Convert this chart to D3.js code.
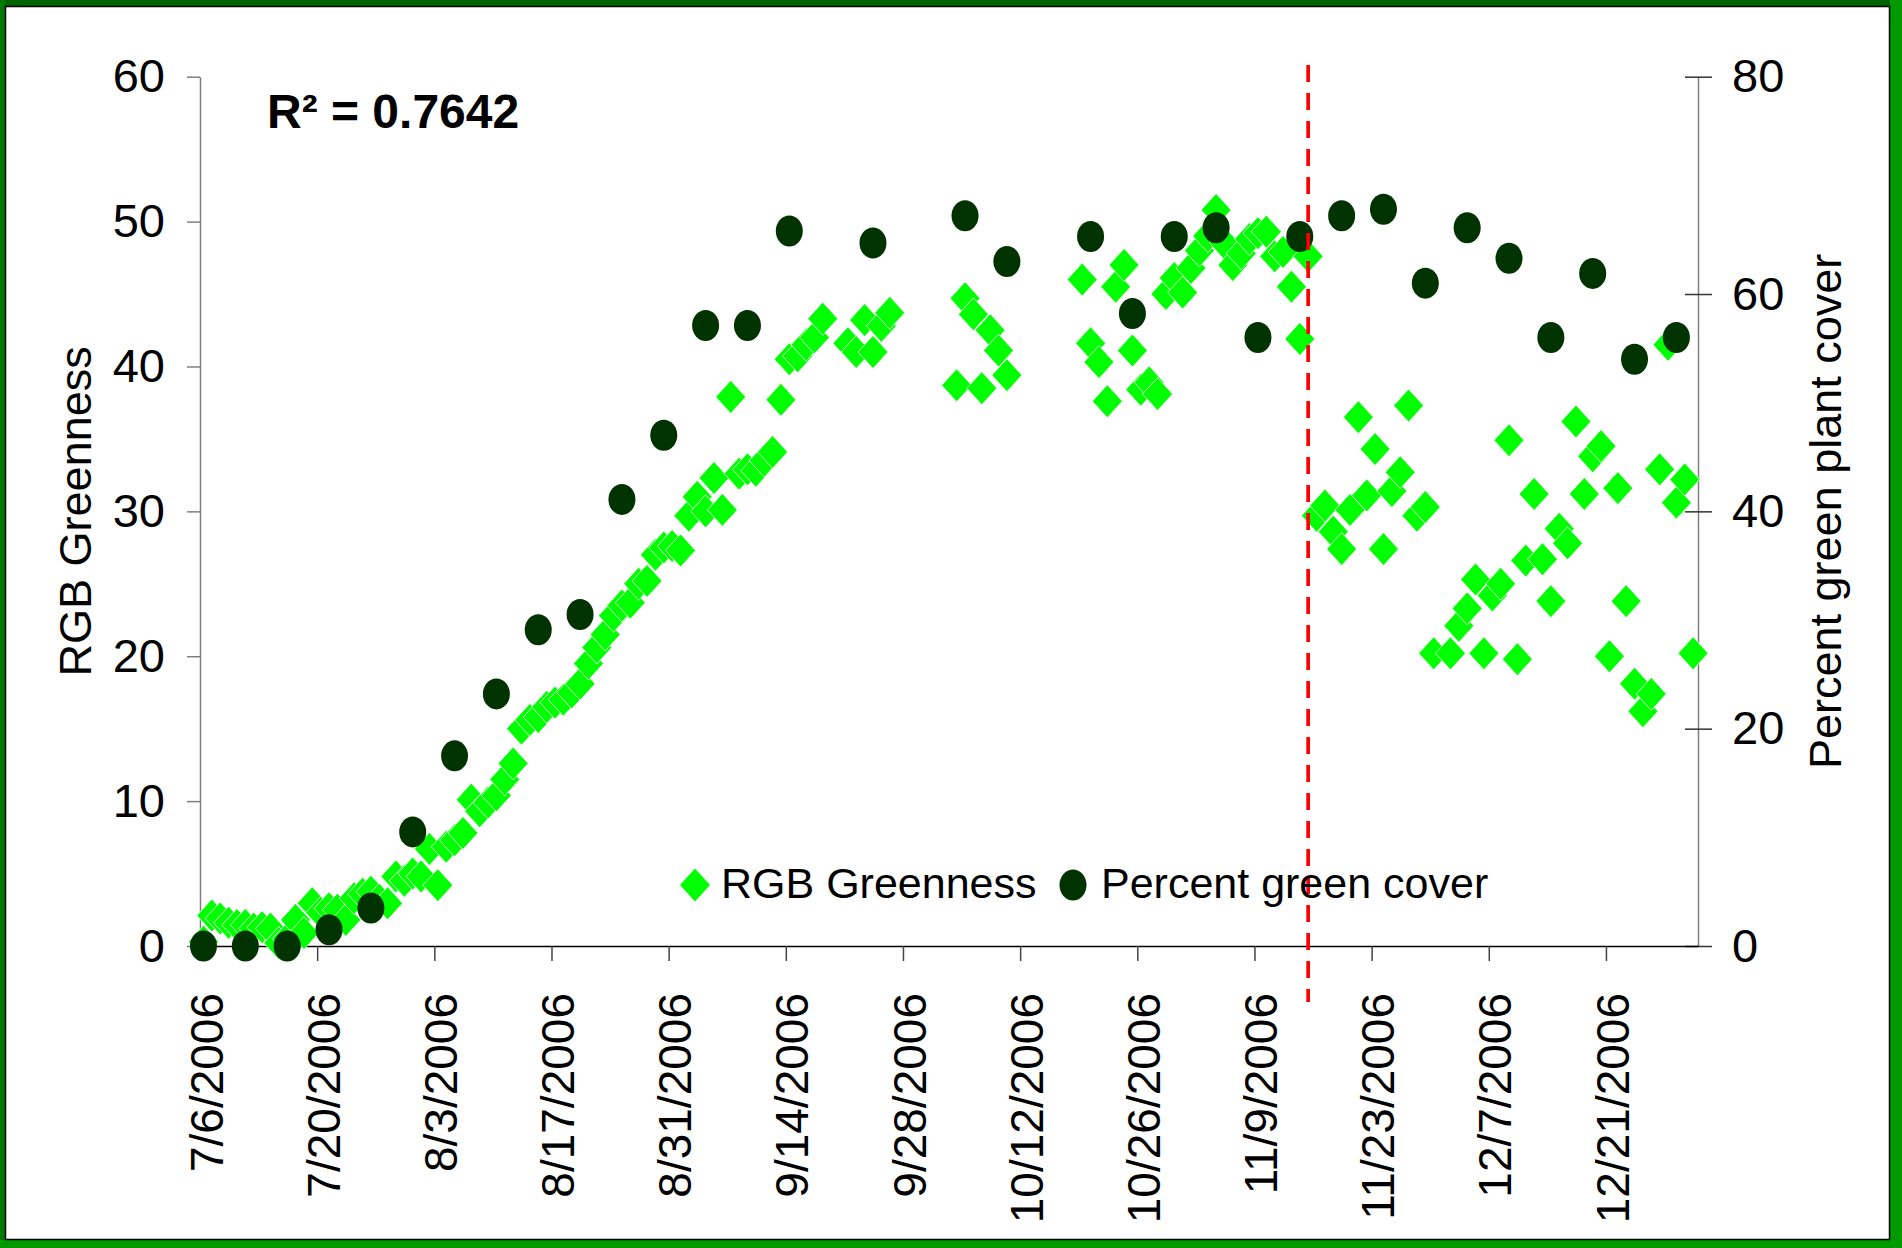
<!DOCTYPE html>
<html>
<head>
<meta charset="utf-8">
<script src="https://cdn.jsdelivr.net/npm/d3@7"></script>
<style>
  body { margin: 0; background: #ffffff; }
  svg { display: block; }
  text { font-family: "Liberation Sans", Arial, Helvetica, sans-serif; fill: #000; }
</style>
</head>
<body>
<svg id="chart" width="1902" height="1248"></svg>
<script>
// ---- data (2006 season, images taken mid-morning) ----
const YEAR = 2006;
const SAMPLE_HOUR = 10;

const rgbDates = [
  "7/6","7/7","7/8","7/9","7/10","7/11","7/12","7/13","7/14","7/15",
  "7/16","7/17","7/18","7/19","7/20","7/21","7/22","7/23","7/24","7/25",
  "7/26","7/27","7/28","7/29","7/30","7/31","8/1","8/2","8/3","8/4",
  "8/5","8/6","8/7","8/8","8/9","8/10","8/11","8/12","8/13","8/14",
  "8/15","8/16","8/17","8/18","8/19","8/20","8/21","8/22","8/23","8/24",
  "8/25","8/26","8/27","8/28","8/29","8/30","8/31","9/1","9/2","9/3",
  "9/4","9/5","9/6","9/7","9/8","9/9","9/10","9/11","9/12","9/13",
  "9/14","9/15","9/16","9/17","9/18",
  "9/21","9/22","9/23","9/24","9/25","9/26",
  "10/4","10/5","10/6","10/7","10/8","10/9","10/10",
  "10/19","10/20","10/21","10/22","10/23","10/24","10/25","10/26","10/27","10/28",
  "10/29","10/30","10/31","11/1","11/2","11/3","11/4","11/5","11/6","11/7",
  "11/8","11/9","11/10","11/11","11/12","11/13","11/14","11/15",
  "11/16","11/17","11/18","11/19","11/20","11/21","11/22","11/23","11/24","11/25",
  "11/26","11/27","11/28","11/29","11/30",
  "12/2","12/3","12/4","12/5","12/6","12/7","12/8","12/9","12/10","12/11",
  "12/12","12/13","12/14","12/15","12/16","12/17","12/18","12/19","12/20","12/21",
  "12/22","12/23","12/24","12/25","12/26","12/27","12/28","12/29","12/30","12/31"
];

const rgbValues = [
  0.3, 2.1, 1.9, 1.6, 1.45, 1.45, 1.2, 1.3, 1.2, 0.2,
  0.5, 1.8, 0.9, 2.95, 2.3, 2.6, 2.5, 1.8, 3.3, 3.6,
  3.75, 3.2, 2.95, 4.8, 4.5, 5.0, 4.8, 6.7, 4.2, 6.85,
  7.3, 7.8, 10.1, 9.3, 9.9, 10.4, 11.5, 12.6, 15.0, 15.6,
  15.8, 16.5, 16.8, 17.0, 17.5, 18.1, 19.5, 20.6, 21.5, 22.8,
  23.5, 23.7, 25.0, 25.2, 27.0, 27.5, 27.6, 27.3, 29.7, 31.0,
  30.0, 32.3, 30.1, 37.9, 32.6, 32.9, 32.8, 33.5, 34.1, 37.7,
  40.5, 40.7, 41.5, 42.0, 43.3,
  41.6, 41.0, 43.2, 41.0, 42.8, 43.7,
  38.7, 44.7, 43.6, 38.5, 42.5, 41.1, 39.4,
  46.0, 41.6, 40.3, 37.6, 45.5, 47.0, 41.1, 38.4, 38.9, 38.1,
  45.0, 46.1, 45.1, 46.8, 48.0, 49.0, 50.8, 48.5, 47.0, 47.8,
  48.8, 49.2, 49.3, 47.6, 47.9, 45.5, 41.9, 47.6,
  29.7, 30.4, 28.6, 27.4, 30.1, 36.5, 31.1, 34.3, 27.4, 31.4,
  32.7, 37.3, 29.7, 30.3, 20.2,
  20.2, 22.1, 23.3, 25.3, 20.2, 24.2, 25.0, 34.9, 19.8, 26.6,
  31.2, 26.7, 23.8, 28.8, 27.8, 36.2, 31.2, 33.8, 34.5, 20.0,
  31.6, 23.8, 18.1, 16.2, 17.4, 32.9, 41.5, 30.6, 32.2, 20.2
];

const coverDates = [
  "7/6","7/11","7/16","7/21","7/26","7/31","8/5","8/10","8/15","8/20",
  "8/25","8/30","9/4","9/9","9/14","9/24","10/5","10/10","10/20","10/25",
  "10/30","11/4","11/9","11/14","11/19","11/24","11/29","12/4","12/9","12/14",
  "12/19","12/24","12/29"
];

const coverValues = [
  0, 0, 0, 1.5, 3.5, 10.5, 17.5, 23.2, 29.1, 30.5,
  41.1, 47.0, 57.1, 57.1, 65.8, 64.7, 67.2, 63.0, 65.3, 58.2,
  65.3, 66.1, 56.0, 65.3, 67.2, 67.8, 61.0, 66.1, 63.3, 56.0,
  61.9, 54.0, 56.0
];

const dateTicks = ["7/6","7/20","8/3","8/17","8/31","9/14","9/28","10/12","10/26","11/9","11/23","12/7","12/21"];
const leftTicks = [0, 10, 20, 30, 40, 50, 60];
const rightTicks = [0, 20, 40, 60, 80];
const axisStart = "7/6/2006";
const axisEnd = "1/1/2007";
const cutoffDate = "11/15";

const seriesNames = ["RGB Greenness", "Percent green cover"];
const leftTitle = "RGB Greenness";
const rightTitle = "Percent green plant cover";
const r2Label = "R\u00B2 = 0.7642";

// ---- helpers ----
const parseFull = d3.timeParse("%m/%d/%Y");
const parseSample = d3.timeParse("%m/%d/%Y %H");
const tickDate = s => parseFull(s + "/" + YEAR);
const sampleDate = s => parseSample(s + "/" + YEAR + " " + SAMPLE_HOUR);

const rgb = rgbDates.map((d, i) => ({ date: sampleDate(d), value: rgbValues[i] }));
const cover = coverDates.map((d, i) => ({ date: sampleDate(d), value: coverValues[i] }));

// ---- layout ----
const W = 1902, H = 1248;
const plot = { left: 200, right: 1698, top: 76.7, bottom: 946 };
const midY = (plot.top + plot.bottom) / 2;

const svg = d3.select("#chart");

// Frame: green border around a white panel
svg.append("rect").attr("x", 0).attr("y", 0).attr("width", W).attr("height", H).attr("fill", "#008a00");
svg.append("rect").attr("x", 0).attr("y", 0).attr("width", W).attr("height", 7).attr("fill", "#006400");
svg.append("rect").attr("x", 0).attr("y", 0).attr("width", 5).attr("height", H).attr("fill", "#007a00");
svg.append("rect").attr("x", 0).attr("y", 1240).attr("width", W).attr("height", 8).attr("fill", "#009a00");
svg.append("rect").attr("x", 1890).attr("y", 0).attr("width", 12).attr("height", H).attr("fill", "#009a00");
svg.append("rect")
  .attr("x", 5.5).attr("y", 6.5).attr("width", 1884).attr("height", 1233)
  .attr("fill", "#ffffff").attr("stroke", "#000").attr("stroke-width", 1.5);

// ---- scales ----
const x = d3.scaleTime()
  .domain([parseFull(axisStart), parseFull(axisEnd)])
  .range([plot.left, plot.right]);
const yL = d3.scaleLinear().domain([0, 60]).range([plot.bottom, plot.top]);
const yR = d3.scaleLinear().domain([0, 80]).range([plot.bottom, plot.top]);

const axisGrey = "#7f7f7f";

// Left axis
const gL = svg.append("g").attr("transform", `translate(${plot.left},0)`)
  .call(d3.axisLeft(yL).tickValues(leftTicks).tickSize(13).tickSizeOuter(0).tickPadding(22));
gL.select(".domain").attr("stroke", axisGrey).attr("stroke-width", 1.5);
gL.selectAll(".tick line").attr("stroke", axisGrey).attr("stroke-width", 1.5);
gL.selectAll(".tick text").attr("font-size", 47).attr("font-family", "Liberation Sans, Arial, sans-serif").attr("fill", "#000");

// Right axis (ticks cross the line)
const gR = svg.append("g").attr("transform", `translate(${plot.right},0)`)
  .call(d3.axisRight(yR).tickValues(rightTicks).tickSize(13).tickSizeOuter(0).tickPadding(21));
gR.select(".domain").attr("stroke", axisGrey).attr("stroke-width", 1.5);
gR.selectAll(".tick line").attr("x1", -13).attr("x2", 14).attr("stroke", "#333").attr("stroke-width", 1.5);
gR.selectAll(".tick text").attr("font-size", 47).attr("font-family", "Liberation Sans, Arial, sans-serif").attr("fill", "#000");

// Bottom date axis
const fmt = d3.timeFormat("%-m/%-d/%Y");
const gX = svg.append("g").attr("transform", `translate(0,${plot.bottom})`)
  .call(d3.axisBottom(x).tickValues(dateTicks.map(tickDate)).tickSize(15).tickSizeOuter(0).tickFormat(fmt));
gX.select(".domain").attr("stroke", "#000").attr("stroke-width", 1.5);
gX.selectAll(".tick line").attr("stroke", "#444").attr("stroke-width", 1.5);
gX.selectAll(".tick text")
  .attr("font-size", 46).attr("font-family", "Liberation Sans, Arial, sans-serif").attr("fill", "#000")
  .attr("transform", "rotate(-90)")
  .attr("x", -47).attr("y", 6).attr("dy", "0.35em")
  .style("text-anchor", "end");

// Axis titles
svg.append("text")
  .attr("transform", `translate(91,${midY}) rotate(-90)`)
  .attr("text-anchor", "middle").attr("font-size", 45)
  .text(leftTitle);
svg.append("text")
  .attr("transform", `translate(1841,${midY}) rotate(-90)`)
  .attr("text-anchor", "middle").attr("font-size", 45)
  .text(rightTitle);

// ---- marks ----
const diamond = "M0,-16.5L15,0L0,16.5L-15,0Z";
const lime = "#00ff00";
const darkGreen = "#003300";

svg.append("g").selectAll("path")
  .data(rgb).join("path")
  .attr("d", diamond)
  .attr("transform", d => `translate(${x(d.date)},${yL(d.value)})`)
  .attr("fill", lime).attr("stroke", "#ffffff").attr("stroke-width", 0.8);

svg.append("g").selectAll("ellipse")
  .data(cover).join("ellipse")
  .attr("cx", d => x(d.date)).attr("cy", d => yR(d.value))
  .attr("rx", 13.5).attr("ry", 15.5)
  .attr("fill", darkGreen);

// Cut-off marker
const xc = x(sampleDate(cutoffDate));
svg.append("line")
  .attr("x1", xc).attr("x2", xc).attr("y1", 65).attr("y2", 1002)
  .attr("stroke", "#ff0000").attr("stroke-width", 3.7)
  .attr("stroke-dasharray", "17,11");

// R² annotation
svg.append("text").attr("x", 267).attr("y", 128)
  .attr("font-size", 48).attr("font-weight", "bold")
  .text(r2Label);

// Legend
const lg = svg.append("g");
lg.append("path").attr("d", diamond).attr("transform", "translate(695,885)").attr("fill", lime);
lg.append("text").attr("x", 721).attr("y", 898).attr("font-size", 43).text(seriesNames[0]);
lg.append("ellipse").attr("cx", 1073).attr("cy", 885).attr("rx", 13.5).attr("ry", 15.5).attr("fill", darkGreen);
lg.append("text").attr("x", 1101).attr("y", 898).attr("font-size", 43).text(seriesNames[1]);
</script>
</body>
</html>
